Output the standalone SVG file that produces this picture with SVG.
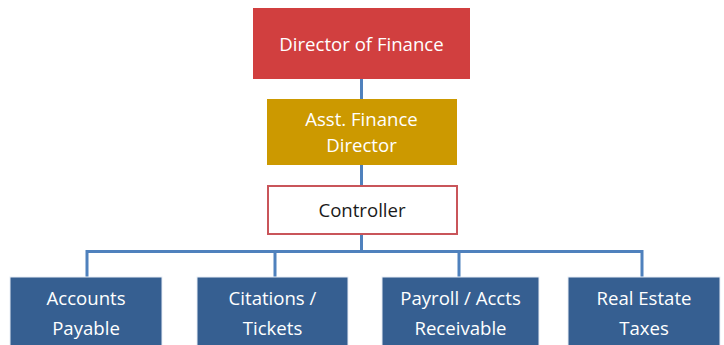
<svg xmlns="http://www.w3.org/2000/svg" width="724" height="345" viewBox="0 0 724 345">
<style>
  text { font-family: "Open Sans", "Liberation Sans", sans-serif; font-size: 18.6px; text-anchor: middle; fill: #ffffff; }
  .dark { fill: #1a1a1a; }
  .conn { fill: none; stroke: #4f81bd; stroke-width: 3; }
  .blue { fill: #365f91; stroke: #e8eef6; stroke-width: 1; }
</style>
<rect width="724" height="345" fill="#ffffff"/>
<g id="connectors">
  <path class="conn" d="M361.5 79 V99 M361.5 165 V185 M361.5 235 V251.5 M87 277 V251.5 H642 V277 M275 251.5 V277 M459 251.5 V277"/>
</g>
<g id="director">
  <rect x="253" y="8" width="217" height="71" fill="#d13f3f"/>
  <text x="361.5" y="51">Director of Finance</text>
</g>
<g id="asst">
  <rect x="267" y="99" width="190" height="66" fill="#cc9900"/>
  <text x="361.5" y="126">Asst. Finance</text>
  <text x="361.5" y="152">Director</text>
</g>
<g id="controller">
  <rect x="268" y="186" width="189" height="48" fill="#ffffff" stroke="#c9555a" stroke-width="2"/>
  <text class="dark" x="362" y="216.5">Controller</text>
</g>
<g id="accounts-payable">
  <rect class="blue" x="10" y="277" width="152" height="70"/>
  <text x="86" y="304.5">Accounts</text>
  <text x="86" y="334.5">Payable</text>
</g>
<g id="citations">
  <rect class="blue" x="197" y="277" width="151" height="70"/>
  <text x="272.5" y="304.5">Citations /</text>
  <text x="272.5" y="334.5">Tickets</text>
</g>
<g id="payroll">
  <rect class="blue" x="382" y="277" width="157" height="70"/>
  <text x="460.5" y="304.5">Payroll / Accts</text>
  <text x="460.5" y="334.5">Receivable</text>
</g>
<g id="real-estate">
  <rect class="blue" x="568" y="277" width="152" height="70"/>
  <text x="644" y="304.5">Real Estate</text>
  <text x="644" y="334.5">Taxes</text>
</g>
</svg>
